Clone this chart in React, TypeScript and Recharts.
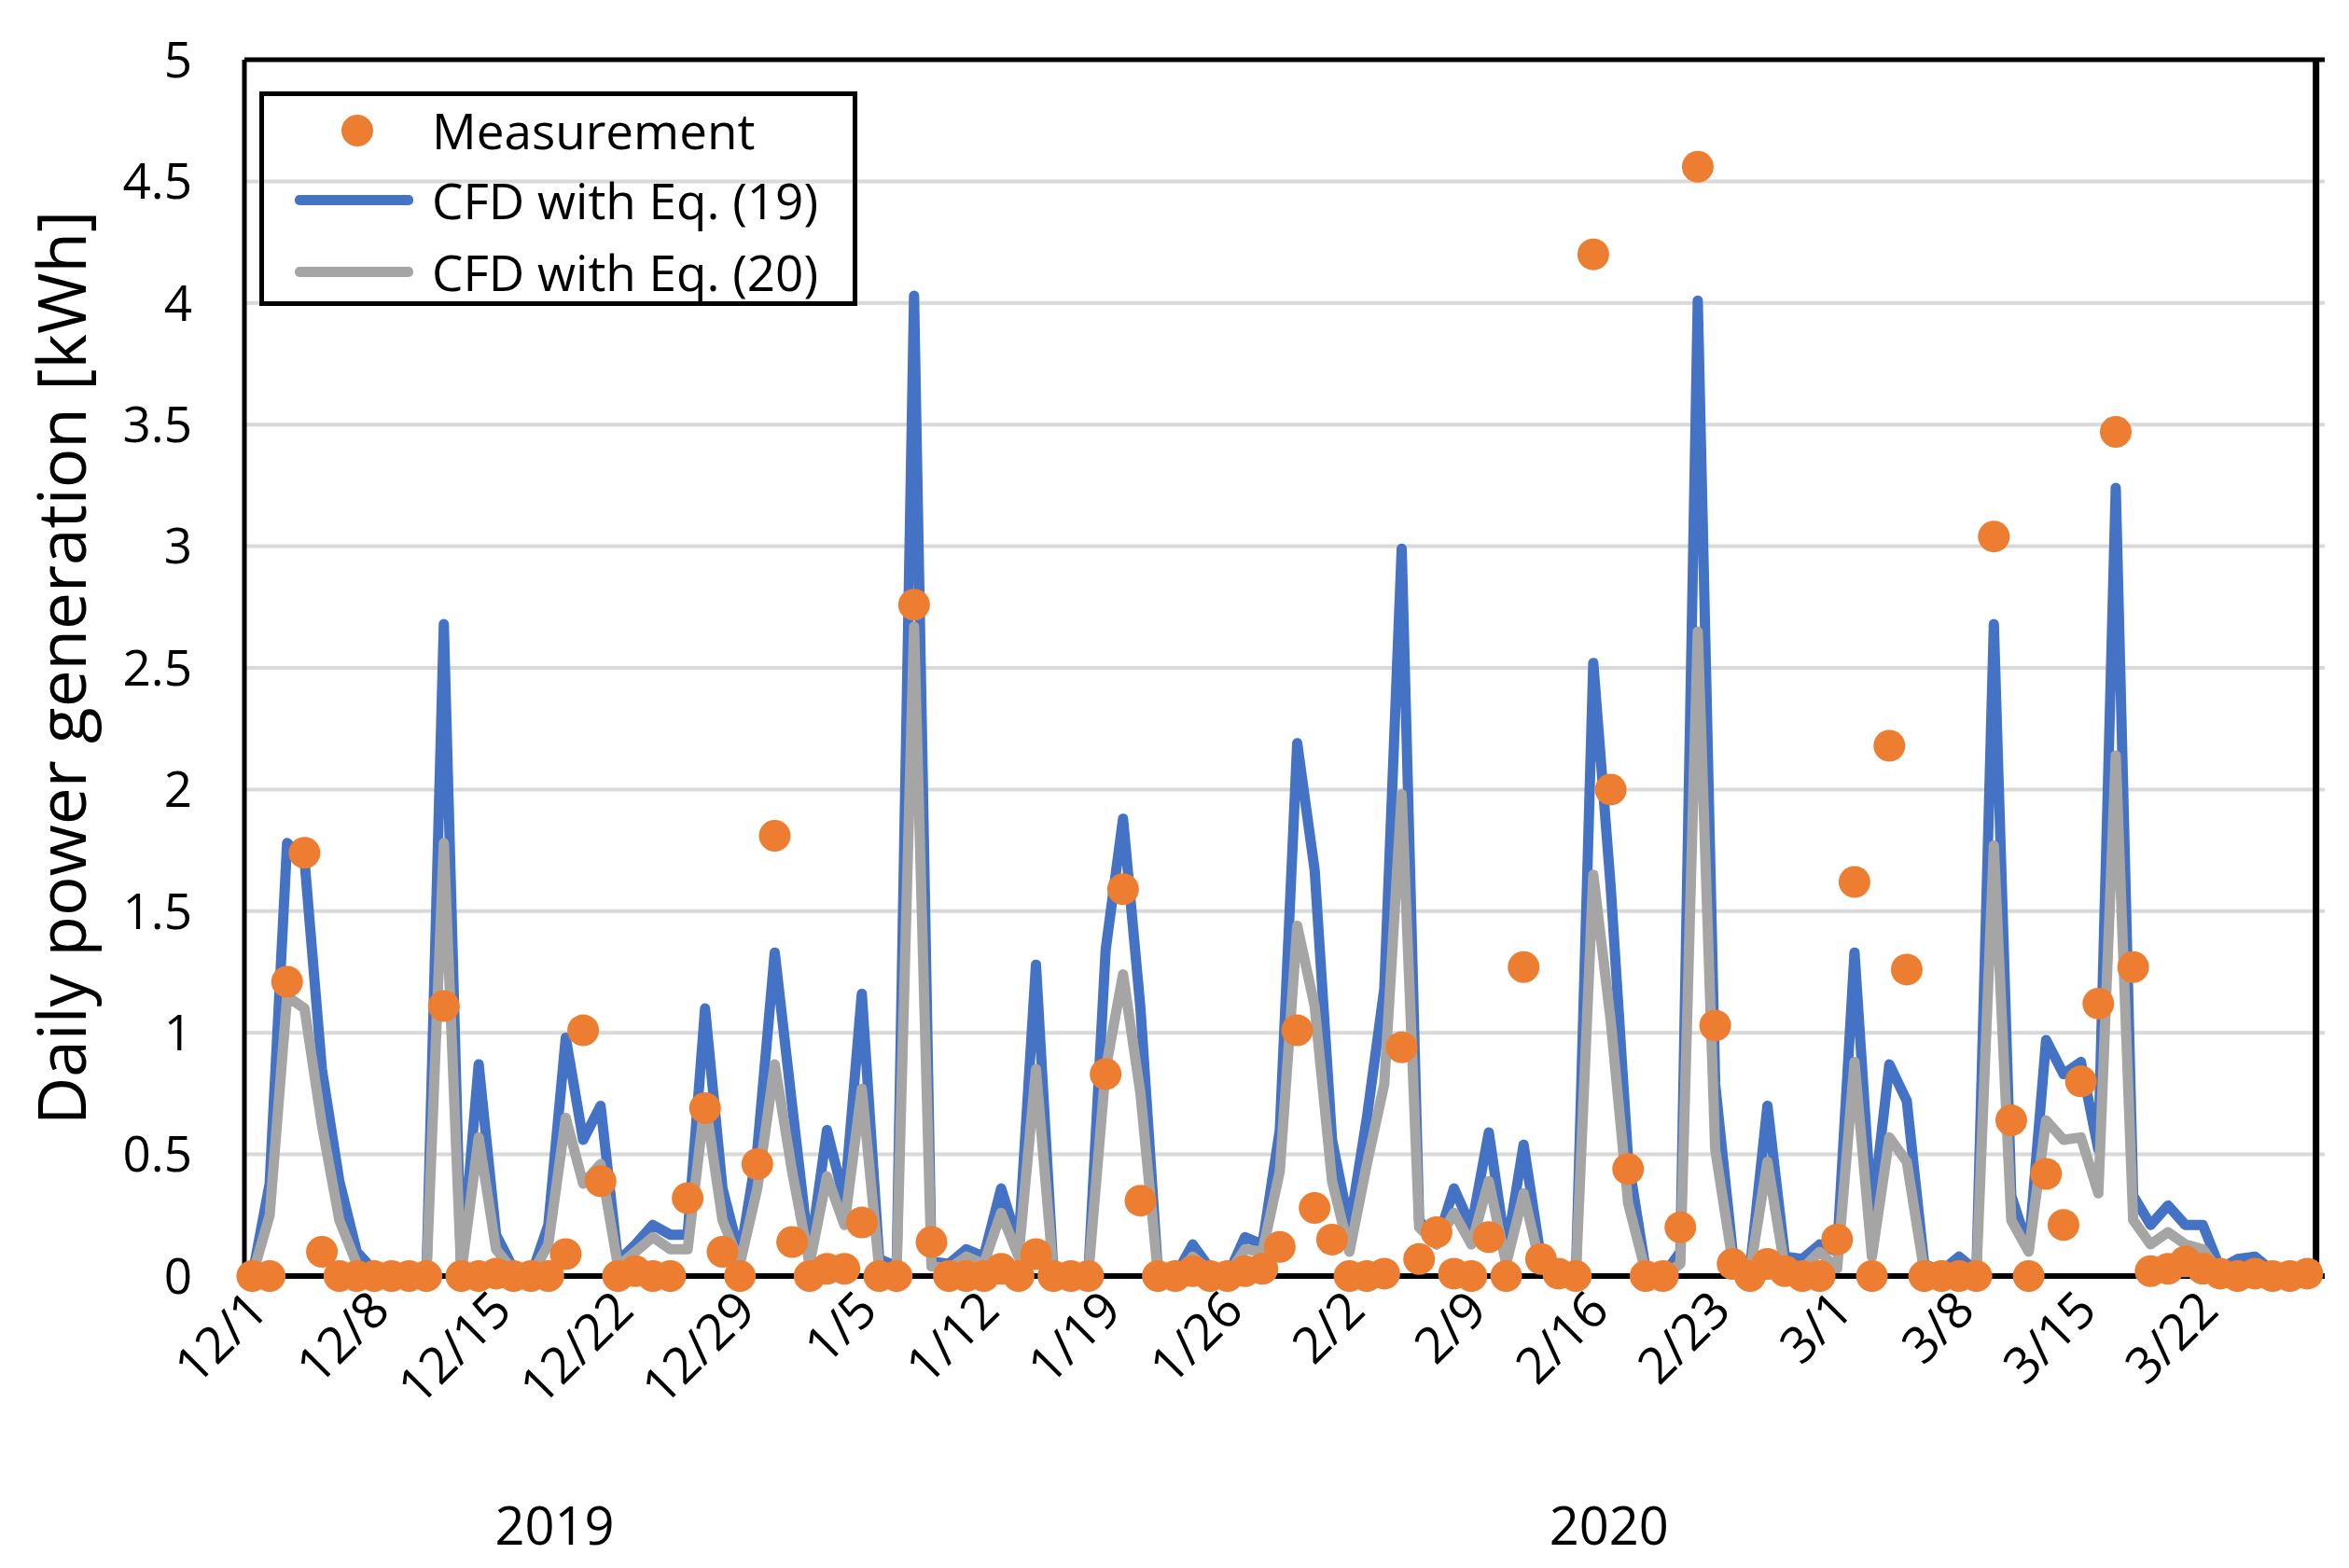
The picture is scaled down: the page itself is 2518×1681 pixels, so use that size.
import React from 'react';
import { ComposedChart, Line, Scatter, XAxis, YAxis, CartesianGrid, ReferenceLine } from 'recharts';

const FONT = '"Open Sans", sans-serif';
const BLUE = '#4472C4';
const GRAY = '#A5A5A5';
const ORANGE = '#ED7D31';

// Daily values, 2019-12-01 .. 2020-03-28 (119 days)
const cfd19 = [
  0, 0.38, 1.78, 1.71, 0.85, 0.39, 0.1, 0.02, 0, 0, 0, 2.68, 0.02, 0.87, 0.17, 0.03, 0, 0.21, 0.98, 0.56,
  0.7, 0.06, 0.13, 0.21, 0.17, 0.17, 1.1, 0.36, 0.08, 0.52, 1.33, 0.7, 0.08, 0.6, 0.31, 1.16, 0.07, 0.04, 4.03, 0.06,
  0.05, 0.11, 0.08, 0.36, 0.13, 1.28, 0.02, 0, 0, 1.34, 1.88, 1.1, 0.02, 0, 0.13, 0.03, 0, 0.16, 0.13, 0.6,
  2.19, 1.67, 0.56, 0.2, 0.65, 1.18, 2.99, 0.23, 0.13, 0.36, 0.2, 0.59, 0.1, 0.54, 0.07, 0, 0, 2.52, 1.6, 0.48,
  0.03, 0, 0.1, 4.01, 0.79, 0.1, 0.03, 0.7, 0.08, 0.07, 0.13, 0.1, 1.33, 0.24, 0.87, 0.72, 0.05, 0.02, 0.08, 0.02,
  2.68, 0.33, 0.11, 0.97, 0.83, 0.88, 0.52, 3.24, 0.33, 0.21, 0.29, 0.21, 0.21, 0.03, 0.07, 0.08, 0.02, 0, 0,
];
const cfd20 = [
  0, 0.25, 1.15, 1.1, 0.62, 0.23, 0.05, 0.01, 0, 0, 0, 1.78, 0.01, 0.57, 0.11, 0.02, 0, 0.13, 0.65, 0.38,
  0.46, 0.04, 0.1, 0.16, 0.11, 0.11, 0.72, 0.23, 0.05, 0.36, 0.87, 0.43, 0.05, 0.41, 0.21, 0.77, 0.03, 0.02, 2.67, 0.04,
  0.03, 0.08, 0.05, 0.26, 0.08, 0.85, 0.01, 0, 0, 0.85, 1.24, 0.75, 0.01, 0, 0.08, 0.02, 0, 0.11, 0.1, 0.43,
  1.44, 1.11, 0.39, 0.1, 0.46, 0.79, 1.98, 0.2, 0.13, 0.26, 0.13, 0.39, 0.05, 0.34, 0.03, 0, 0, 1.65, 1.05, 0.3,
  0.02, 0, 0.05, 2.65, 0.52, 0.06, 0.02, 0.47, 0.03, 0.03, 0.1, 0.03, 0.88, 0.08, 0.57, 0.47, 0.02, 0.01, 0.03, 0.01,
  1.77, 0.23, 0.1, 0.64, 0.56, 0.57, 0.34, 2.14, 0.23, 0.13, 0.18, 0.13, 0.11, 0.01, 0.03, 0.04, 0.01, 0, 0,
];
const measurement = [
  0, 0, 1.21, 1.74, 0.1, 0, 0, 0, 0, 0, 0, 1.11, 0, 0, 0.01, 0, 0, 0, 0.09, 1.01,
  0.39, 0, 0.02, 0, 0, 0.32, 0.69, 0.1, 0, 0.46, 1.81, 0.14, 0, 0.03, 0.03, 0.22, 0, 0, 2.76, 0.14,
  0, 0, 0, 0.03, 0, 0.09, 0, 0, 0, 0.83, 1.59, 0.31, 0, 0, 0.02, 0, 0, 0.02, 0.03, 0.12,
  1.01, 0.28, 0.15, 0, 0, 0.01, 0.94, 0.07, 0.18, 0.01, 0, 0.16, 0, 1.27, 0.07, 0.01, 0, 4.2, 2.0, 0.44,
  0, 0, 0.2, 4.56, 1.03, 0.05, 0, 0.05, 0.02, 0, 0, 0.15, 1.62, 0, 2.18, 1.26, 0, 0, 0, 0,
  3.04, 0.64, 0, 0.42, 0.21, 0.8, 1.12, 3.47, 1.27, 0.02, 0.03, 0.06, 0.03, 0.01, 0, 0.01, 0, 0, 0.01,
];

const tickDays = [0, 7, 14, 21, 28, 35, 42, 49, 56, 63, 70, 77, 84, 91, 98, 105, 112];
const tickLabels = ['12/1', '12/8', '12/15', '12/22', '12/29', '1/5', '1/12', '1/19', '1/26', '2/2', '2/9', '2/16', '2/23', '3/1', '3/8', '3/15', '3/22'];
const yTicks = [0, 0.5, 1, 1.5, 2, 2.5, 3, 3.5, 4, 4.5, 5];
const yearLabels = ['2019', '2020'];
const yearPositions = [17.6, 77.4];
const xDomain = [-0.45, 118.5];
const yDomain = [0, 5];

const data = cfd19.map((v, i) => ({ day: i, cfd19: v, cfd20: cfd20[i], meas: measurement[i] }));

const DateTick = (props: any) => {
  const { x, y, payload } = props;
  const idx = tickDays.indexOf(payload.value);
  const label = idx >= 0 ? tickLabels[idx] : '';
  return (
    <g transform={`translate(${x + 6},${y + 26})`}>
      <text x={0} y={0} dy="0.35em" textAnchor="end" transform="rotate(-45)" fontSize={54} fontFamily={FONT} fill="#000">
        {label}
      </text>
    </g>
  );
};

const YearTick = (props: any) => {
  const { x, y, payload } = props;
  const idx = yearPositions.indexOf(payload.value);
  return (
    <text x={x} y={y} dy="0.71em" textAnchor="middle" fontSize={56} fontFamily={FONT} fill="#000">
      {idx >= 0 ? yearLabels[idx] : ''}
    </text>
  );
};

const YTitle = (props: any) => {
  const vb = props.viewBox || { x: 0, y: 0, width: 0, height: 0 };
  const cx = vb.x + 64;
  const cy = vb.y + vb.height / 2;
  return (
    <text x={cx} y={cy} transform={`rotate(-90 ${cx} ${cy})`} textAnchor="middle" dominantBaseline="central" fontSize={71} fontFamily={FONT} fill="#000">
      Daily power generation [kWh]
    </text>
  );
};

const Dot = (props: any) => {
  const { cx, cy } = props;
  if (cx == null || cy == null) return null;
  return <circle cx={cx} cy={cy} r={17} fill={ORANGE} stroke="none" />;
};

const Legend = () => {
  const row = (top: number, marker: React.ReactNode, text: string) => (
    <div style={{ position: 'absolute', left: 0, top: top - 40, height: 80, width: '100%' }}>
      <div style={{ position: 'absolute', left: 0, top: 0, width: 184, height: 80 }}>{marker}</div>
      <div style={{ position: 'absolute', left: 180, top: 0, height: 80, lineHeight: '80px', fontSize: 53, fontFamily: FONT, color: '#000', whiteSpace: 'nowrap' }}>{text}</div>
    </div>
  );
  return (
    <div style={{ position: 'absolute', left: 278, top: 98, width: 641, height: 230, border: '5px solid #000', boxSizing: 'border-box' }}>
      {row(37, <div style={{ position: 'absolute', left: 83, top: 23, width: 34, height: 34, borderRadius: '50%', background: ORANGE }} />, 'Measurement')}
      {row(112, <div style={{ position: 'absolute', left: 33, top: 34, width: 127, height: 11, borderRadius: 5, background: BLUE }} />, 'CFD with Eq. (19)')}
      {row(189, <div style={{ position: 'absolute', left: 33, top: 34, width: 127, height: 11, borderRadius: 5, background: GRAY }} />, 'CFD with Eq. (20)')}
    </div>
  );
};

export default function App() {
  return (
    <div style={{ position: 'relative', width: 2518, height: 1681, background: '#fff' }}>
      <style>{`body{margin:0;background:#fff}`}</style>
      <ComposedChart width={2518} height={1681} data={data} margin={{ top: 64, right: 26, bottom: 0, left: 0 }}>
        <CartesianGrid vertical={false} stroke="#D9D9D9" strokeWidth={4} />
        <XAxis
          dataKey="day"
          type="number"
          domain={xDomain}
          ticks={tickDays}
          interval={0}
          tick={<DateTick />}
          tickLine={false}
          tickSize={0}
          tickMargin={0}
          height={200}
          axisLine={{ stroke: '#000', strokeWidth: 6 }}
          allowDecimals={false}
        />
        <XAxis
          xAxisId="year"
          type="number"
          domain={xDomain}
          ticks={yearPositions}
          interval={0}
          tick={<YearTick />}
          tickLine={false}
          tickSize={0}
          tickMargin={48}
          height={113}
          axisLine={false}
        />
        <YAxis
          domain={yDomain}
          ticks={yTicks}
          interval={0}
          width={262}
          tickLine={false}
          tickSize={0}
          tickMargin={56}
          tick={{ fontSize: 53, fontFamily: FONT, fill: '#000' }}
          axisLine={{ stroke: '#000', strokeWidth: 5 }}
          label={<YTitle />}
        />
        <ReferenceLine y={yDomain[1]} stroke="#000" strokeWidth={5} ifOverflow="visible" />
        <ReferenceLine x={xDomain[1]} stroke="#000" strokeWidth={7} ifOverflow="visible" />
        <Line type="linear" dataKey="cfd19" stroke={BLUE} strokeWidth={11} strokeLinejoin="round" dot={false} activeDot={false} isAnimationActive={false} />
        <Line type="linear" dataKey="cfd20" stroke={GRAY} strokeWidth={11} strokeLinejoin="round" dot={false} activeDot={false} isAnimationActive={false} />
        <Scatter dataKey="meas" fill={ORANGE} shape={<Dot />} isAnimationActive={false} />
      </ComposedChart>
      <Legend />
    </div>
  );
}
